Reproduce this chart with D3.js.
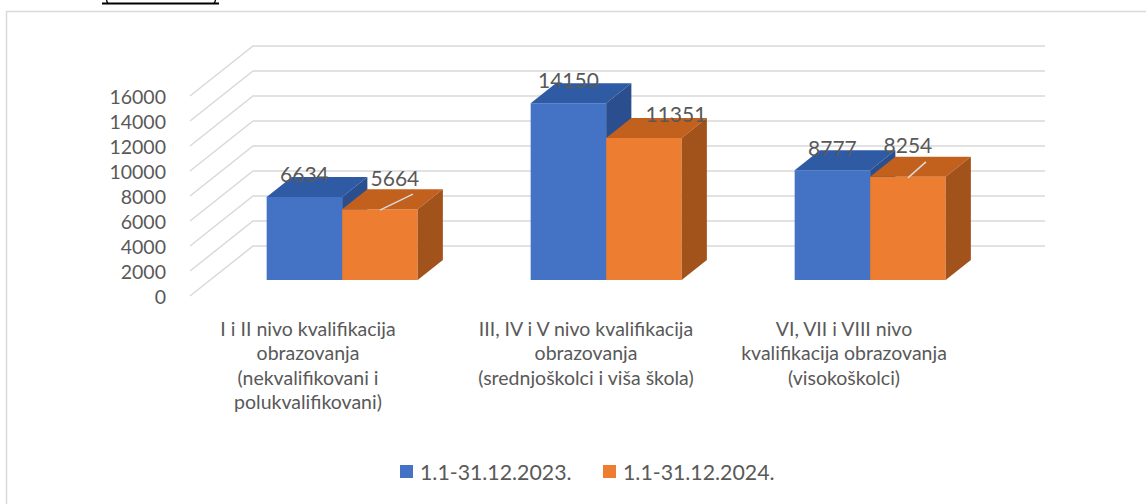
<!DOCTYPE html>
<html>
<head>
<meta charset="utf-8">
<script src="https://cdn.jsdelivr.net/npm/d3@7"></script>
<style>
  html, body { margin: 0; padding: 0; background: #ffffff; }
  svg { display: block; }
  text { font-family: "Lato", "Open Sans", sans-serif; fill: #595959; }
</style>
</head>
<body>
<svg id="chart" width="1146" height="504"></svg>
<script>
// ---- data ----
const categories = [
  "I i II nivo kvalifikacija obrazovanja (nekvalifikovani i polukvalifikovani)",
  "III, IV i V nivo kvalifikacija obrazovanja (srednjoškolci i viša škola)",
  "VI, VII i VIII nivo kvalifikacija obrazovanja (visokoškolci)"
];
const categoryLines = [
  ["I i II nivo kvalifikacija", "obrazovanja", "(nekvalifikovani i", "polukvalifikovani)"],
  ["III, IV i V nivo kvalifikacija", "obrazovanja", "(srednjoškolci i viša škola)"],
  ["VI, VII i VIII nivo", "kvalifikacija obrazovanja", "(visokoškolci)"]
];
const seriesNames = ["1.1-31.12.2023.", "1.1-31.12.2024."];
const values2023 = [6634, 14150, 8777];
const values2024 = [5664, 11351, 8254];
const tickValues = [0, 2000, 4000, 6000, 8000, 10000, 12000, 14000, 16000];

// ---- layout / style ----
const seriesValues = [values2023, values2024];
const colors = [
  { front: "#4472C4", top: "#2F5BA5", side: "#2A4E8E" },
  { front: "#ED7D31", top: "#C2601E", side: "#A2521B" }
];
const depth = { dx: 63, dy: -50 };
const t0 = 0.32, td = 0.40;
// label nudges (layout only)
const catLabelNudge = [-14, 0, -6];
const labelNudge = [
  [[0, -24], [0, -24], [0, -23]],
  [[15, -32], [32, -25], [0, -32]]
];
const leader = [[false, false, false], [true, false, true]];

const svg = d3.select("#chart");

// frame
svg.append("path")
  .attr("d", "M6.5,1146 L6.5,11.5 L1146,11.5")
  .attr("fill", "none").attr("stroke", "#d9d9d9").attr("stroke-width", 1.5);

// fragment of text above (cut off)
svg.append("path")
  .attr("d", "M102,3.5 L219,3.5")
  .attr("stroke", "#000").attr("stroke-width", 2.2);
svg.append("path").attr("d", "M106.5,0 Q107,2.5 108.5,4").attr("fill", "none").attr("stroke", "#000").attr("stroke-width", 1.3);
svg.append("path").attr("d", "M215.5,0 Q215,2.5 213.5,4").attr("fill", "none").attr("stroke", "#000").attr("stroke-width", 1.3);

const y = d3.scaleLinear().domain([0, 16000]).range([296, 96]);
const x0 = d3.scaleBand().domain(categories).range([190, 982]).padding(0);
const groupW = x0.bandwidth() * 0.572;
const x1 = d3.scaleBand().domain(seriesNames).range([0, groupW]).padding(0);

function P(x, v, t) { return [x + depth.dx * t, y(v) + depth.dy * t]; }
function poly(pts) { return "M" + pts.map(p => p[0].toFixed(2) + "," + p[1].toFixed(2)).join("L") + "Z"; }

// gridlines (side wall + back wall)
const grid = svg.append("g");
tickValues.forEach(v => {
  const a = P(190, v, 0), b = P(190, v, 1), c = P(982, v, 1);
  grid.append("path")
    .attr("d", `M${a[0]},${a[1]}L${b[0]},${b[1]}L${c[0]},${c[1]}`)
    .attr("fill", "none").attr("stroke", "#d9d9d9").attr("stroke-width", 1.5);
});

// y tick labels
svg.append("g").selectAll("text").data(tickValues).join("text")
  .attr("x", 166).attr("y", d => y(d))
  .attr("text-anchor", "end").attr("dominant-baseline", "central")
  .attr("font-size", 19.5)
  .text(d => d);

// bars
const bars = svg.append("g");
categories.forEach((cat, ci) => {
  seriesNames.forEach((s, si) => {
    const v = seriesValues[si][ci];
    const xl = x0(cat) + (x0.bandwidth() - groupW) / 2 + x1(s);
    const xr = xl + x1.bandwidth();
    const c = colors[si];
    bars.append("path").attr("d", poly([P(xl, 0, t0), P(xr, 0, t0), P(xr, v, t0), P(xl, v, t0)])).attr("fill", c.front);
    bars.append("path").attr("d", poly([P(xl, v, t0), P(xr, v, t0), P(xr, v, t0 + td), P(xl, v, t0 + td)])).attr("fill", c.top);
    bars.append("path").attr("d", poly([P(xr, 0, t0), P(xr, 0, t0 + td), P(xr, v, t0 + td), P(xr, v, t0)])).attr("fill", c.side);
  });
});

// data labels
const labels = svg.append("g");
categories.forEach((cat, ci) => {
  seriesNames.forEach((s, si) => {
    const v = seriesValues[si][ci];
    const xl = x0(cat) + (x0.bandwidth() - groupW) / 2 + x1(s);
    const cx = P(xl + x1.bandwidth() / 2, v, t0);
    const n = labelNudge[si][ci];
    const lx = cx[0] + n[0], ly = cx[1] + n[1];
    if (leader[si][ci]) {
      labels.append("line")
        .attr("x1", cx[0]).attr("y1", cx[1] + 1)
        .attr("x2", lx + 18).attr("y2", ly + 17)
        .attr("stroke", "#d9d9d9").attr("stroke-width", 1.5);
    }
    labels.append("text")
      .attr("x", lx).attr("y", ly)
      .attr("text-anchor", "middle").attr("dominant-baseline", "central")
      .attr("font-size", 21)
      .text(v);
  });
});

// category labels
const catG = svg.append("g");
categories.forEach((cat, ci) => {
  const cx = x0(cat) + x0.bandwidth() / 2 + catLabelNudge[ci];
  const t = catG.append("text")
    .attr("text-anchor", "middle").attr("font-size", 19.5);
  categoryLines[ci].forEach((line, li) => {
    t.append("tspan").attr("x", cx).attr("y", 328 + li * 24.5)
      .attr("dominant-baseline", "central").text(line);
  });
});

// legend
const legend = svg.append("g");
const legendX = [400, 603];
seriesNames.forEach((s, si) => {
  legend.append("rect").attr("x", legendX[si]).attr("y", 465).attr("width", 13).attr("height", 13)
    .attr("fill", colors[si].front);
  legend.append("text").attr("x", legendX[si] + 20).attr("y", 472)
    .attr("dominant-baseline", "central").attr("font-size", 21.3).text(s);
});
</script>
</body>
</html>
